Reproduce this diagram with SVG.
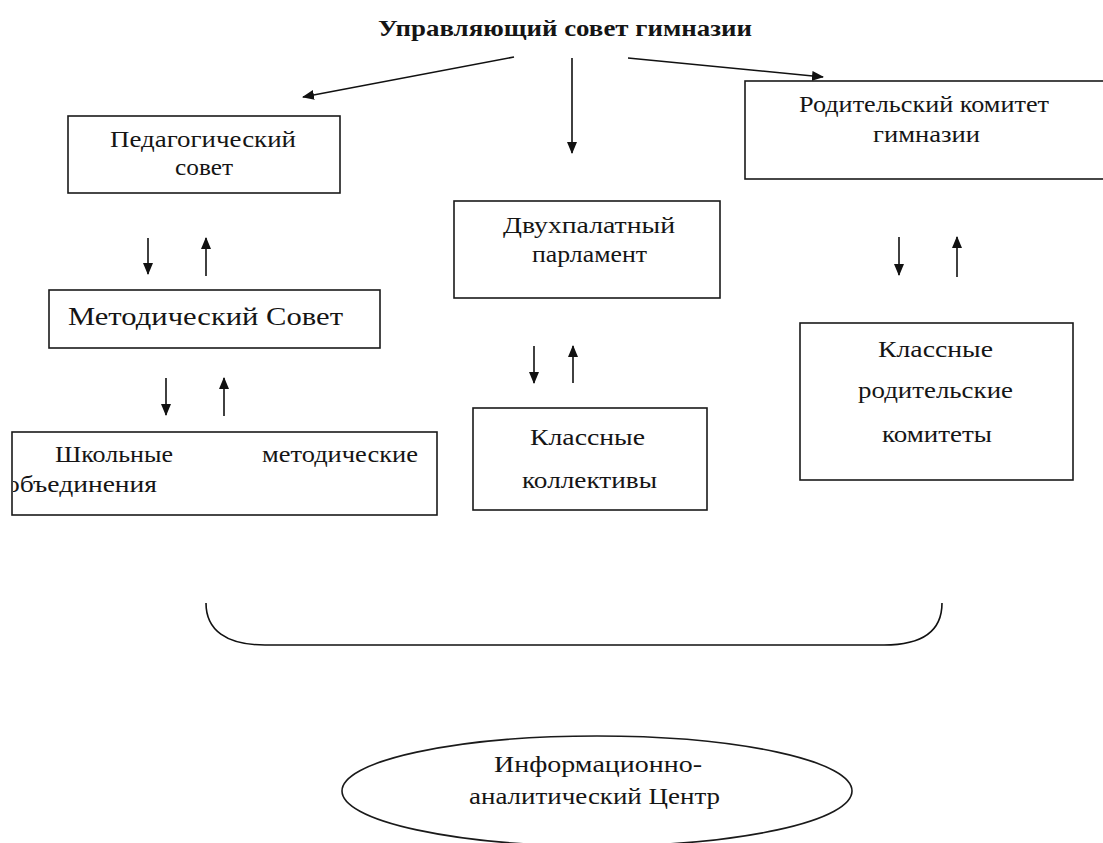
<svg xmlns="http://www.w3.org/2000/svg" width="1103" height="843" viewBox="0 0 1103 843">
<style>
.box{fill:#fff;stroke:#1a1a1a;stroke-width:1.6}
.t{font-family:"Liberation Serif","DejaVu Serif",serif;font-size:22.5px;fill:#151515}
.big{font-size:25px}
.title{font-weight:bold;font-size:23px}
.ln{stroke:#111;stroke-width:1.6;fill:none}
</style>
<defs>
<marker id="ah" markerUnits="userSpaceOnUse" markerWidth="12" markerHeight="10" refX="11" refY="5" orient="auto">
<path d="M0,0 L12,5 L0,10 z" fill="#111"/>
</marker>
<clipPath id="cs"><rect x="13" y="431" width="424" height="84"/></clipPath>
</defs>
<rect width="1103" height="843" fill="#fff"/>
<g id="title">
<text class="t title" x="378" y="36" textLength="374" lengthAdjust="spacingAndGlyphs">Управляющий совет гимназии</text>
</g>
<g id="ped">
<rect class="box" x="68" y="116" width="272" height="77"/>
<text class="t" x="110" y="147" textLength="186" lengthAdjust="spacingAndGlyphs">Педагогический</text>
<text class="t" x="175" y="175" textLength="58" lengthAdjust="spacingAndGlyphs">совет</text>
</g>
<g id="metod">
<rect class="box" x="49" y="290" width="331" height="58"/>
<text class="t big" x="68" y="325" textLength="275" lengthAdjust="spacingAndGlyphs">Методический Совет</text>
</g>
<g id="shmo">
<rect class="box" x="12" y="432" width="425" height="83"/>
<text class="t" x="55" y="462" textLength="118" lengthAdjust="spacingAndGlyphs">Школьные</text>
<text class="t" x="262" y="462" textLength="156" lengthAdjust="spacingAndGlyphs">методические</text>
<text class="t" x="6" y="492" textLength="151" lengthAdjust="spacingAndGlyphs" clip-path="url(#cs)">объединения</text>
</g>
<g id="parl">
<rect class="box" x="454" y="201" width="266" height="97"/>
<text class="t" x="503" y="233" textLength="172" lengthAdjust="spacingAndGlyphs">Двухпалатный</text>
<text class="t" x="532" y="262" textLength="115" lengthAdjust="spacingAndGlyphs">парламент</text>
</g>
<g id="klkol">
<rect class="box" x="473" y="408" width="234" height="102"/>
<text class="t" x="530" y="445" textLength="115" lengthAdjust="spacingAndGlyphs">Классные</text>
<text class="t" x="522" y="488" textLength="135" lengthAdjust="spacingAndGlyphs">коллективы</text>
</g>
<g id="rodkom">
<rect class="box" x="745" y="81" width="365" height="98"/>
<text class="t" x="799" y="112" textLength="250" lengthAdjust="spacingAndGlyphs">Родительский комитет</text>
<text class="t" x="873" y="142" textLength="107" lengthAdjust="spacingAndGlyphs">гимназии</text>
</g>
<g id="klrod">
<rect class="box" x="800" y="323" width="273" height="157"/>
<text class="t" x="878" y="357" textLength="115" lengthAdjust="spacingAndGlyphs">Классные</text>
<text class="t" x="858" y="398" textLength="155" lengthAdjust="spacingAndGlyphs">родительские</text>
<text class="t" x="882" y="442" textLength="110" lengthAdjust="spacingAndGlyphs">комитеты</text>
</g>
<g id="iac">
<ellipse class="box" cx="597" cy="791" rx="255" ry="55"/>
<text class="t" x="494" y="772" textLength="208" lengthAdjust="spacingAndGlyphs">Информационно-</text>
<text class="t" x="469" y="804" textLength="251" lengthAdjust="spacingAndGlyphs">аналитический Центр</text>
</g>
<g id="connectors">
<line class="ln" x1="514" y1="57" x2="303" y2="97" marker-end="url(#ah)"/>
<line class="ln" x1="572" y1="58" x2="572" y2="153" marker-end="url(#ah)"/>
<line class="ln" x1="628" y1="58" x2="823" y2="77" marker-end="url(#ah)"/>
<line class="ln" x1="148" y1="238" x2="148" y2="274" marker-end="url(#ah)"/>
<line class="ln" x1="206" y1="276" x2="206" y2="238" marker-end="url(#ah)"/>
<line class="ln" x1="166" y1="378" x2="166" y2="415" marker-end="url(#ah)"/>
<line class="ln" x1="224" y1="416" x2="224" y2="378" marker-end="url(#ah)"/>
<line class="ln" x1="534" y1="346" x2="534" y2="383" marker-end="url(#ah)"/>
<line class="ln" x1="573" y1="383" x2="573" y2="346" marker-end="url(#ah)"/>
<line class="ln" x1="899" y1="237" x2="899" y2="275" marker-end="url(#ah)"/>
<line class="ln" x1="957" y1="277" x2="957" y2="237" marker-end="url(#ah)"/>
<path class="ln" d="M206 603 C206 630 226 645 265 645 L884 645 C924 645 942 630 942 603"/>
</g>
</svg>
